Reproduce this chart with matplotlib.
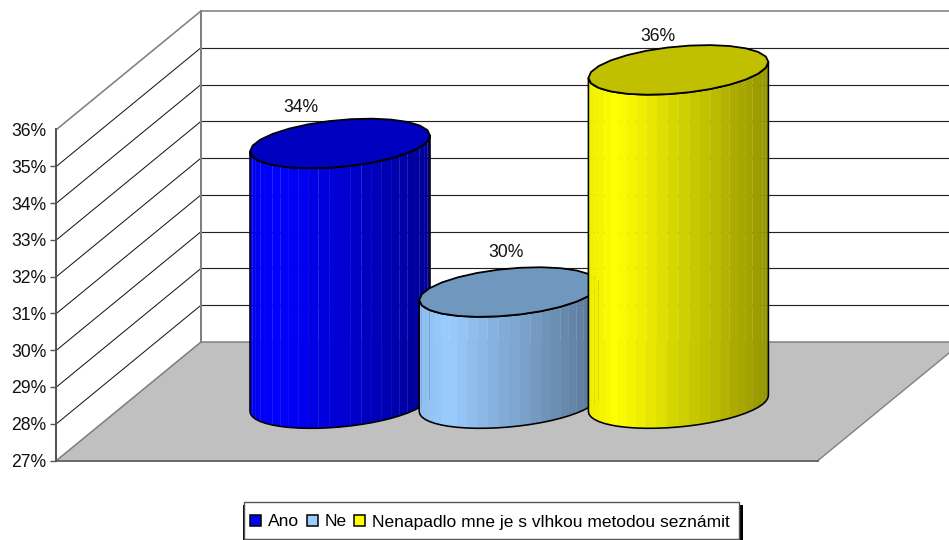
import numpy as np
import matplotlib
matplotlib.use("Agg")
import matplotlib.pyplot as plt
from matplotlib.patches import Polygon, Patch, Rectangle

categories = ["Ano", "Ne", "Nenapadlo mne je s vlhkou metodou seznámit"]
values = [34.07, 30.03, 36.07]
value_labels = ["34%", "30%", "36%"]
ticks = [27, 28, 29, 30, 31, 32, 33, 34, 35, 36]
tick_labels = ["27%", "28%", "29%", "30%", "31%", "32%", "33%", "34%", "35%", "36%"]

colors = [(0.0, 0.0, 1.0), (0.6, 0.8, 1.0), (1.0, 1.0, 0.0)]
caps = ["#0000C0", "#7098BF", "#C0C000"]

plt.rcParams["font.family"] = ["Liberation Sans", "DejaVu Sans"]
W, H = 949, 540
PX = 36.78
Y0 = 460.5


def val(py):
    return 27 + (Y0 - py) / PX


fig = plt.figure(figsize=(W / 100, H / 100), dpi=100)
ax = fig.add_axes([0, 0, 1, 1])
ax.set_xlim(0, W)
ax.set_ylim(val(H), val(0))
ax.set_xticks([])
for s in ("top", "right", "bottom"):
    ax.spines[s].set_visible(False)

X0, XB, XF = 56.5, 201, 818
DEPTH = 118.5 / PX
vmin, vmax = ticks[0], ticks[-1]
GR = "#808080"
lw1 = 0.72

# floor
ax.add_patch(Polygon([(X0, vmin), (XF, vmin), (XF + XB - X0, vmin + DEPTH), (XB, vmin + DEPTH)],
                     closed=True, fc="#C0C0C0", ec="none", zorder=1))
ax.plot([XF, XF + XB - X0], [vmin, vmin + DEPTH], color=GR, lw=lw1 * 1.4, zorder=2)
ax.plot([XB, W], [vmin + DEPTH] * 2, color=GR, lw=lw1 * 1.5, zorder=2)
ax.plot([X0, XB], [vmin, vmin + DEPTH], color=GR, lw=lw1 * 1.6, zorder=2)
ax.plot([X0, XF], [vmin, vmin], color="#555555", lw=lw1 * 1.7, zorder=2)

# walls and grid
for t in ticks[1:-1]:
    ax.plot([X0, XB], [t, t + DEPTH], color="#111111", lw=lw1, zorder=2)
    ax.plot([XB, W], [t + DEPTH] * 2, color="#222222", lw=lw1 * 1.15, zorder=2)
ax.plot([X0, XB], [vmax, vmax + DEPTH], color=GR, lw=lw1 * 1.6, zorder=2)
ax.plot([XB, W], [vmax + DEPTH] * 2, color=GR, lw=lw1 * 1.6, zorder=2)
ax.plot([XB, XB], [vmin + DEPTH, vmax + DEPTH], color=GR, lw=lw1 * 2, zorder=2)

# axis
ax.spines["left"].set_position(("data", X0))
ax.spines["left"].set_bounds(vmin, vmax)
ax.spines["left"].set_color("#555555")
ax.spines["left"].set_linewidth(lw1 * 2)
ax.spines["left"].set_zorder(3)
ax.set_yticks(ticks, tick_labels)
ax.tick_params(axis="y", length=4.4, width=1.0, color="#555555", pad=3, labelsize=12.7, labelcolor="#111111")
ax.yaxis.get_major_ticks()[-1].tick1line.set_visible(False)

# cylinders
RX, RY, SH = 90.0, 23.5, -8.0
BASE = val(403.5)
CX0, STEP = 340.0, 169.2
N = 26


def shade(u):
    if u < 0.16:
        return 0.93 + 0.07 * u / 0.16
    return 1 - 0.42 * (u - 0.16) / 0.84


for i, (v, c, cap) in enumerate(zip(values, colors, caps)):
    cx = CX0 + i * STEP
    ts = np.linspace(np.pi, 0, N + 1)          # left to right along the front
    xs = cx + RX * np.cos(ts)
    dy = (SH * np.cos(ts) + RY * np.sin(ts)) / PX
    low = BASE - dy
    up = BASE + (v - vmin) - dy
    for j in range(N):
        f = shade((xs[j] + xs[j + 1] - 2 * xs[0]) / 2 / (xs[-1] - xs[0]))
        col = tuple(f * k for k in c)
        ax.add_patch(Polygon([(xs[j], low[j]), (xs[j + 1], low[j + 1]), (xs[j + 1], up[j + 1]), (xs[j], up[j])],
                             closed=True, fc=col, ec=col, lw=0.15, zorder=4 + i))
    outline = np.vstack([np.column_stack([xs, low]), np.column_stack([xs[::-1], up[::-1]])])
    ax.add_patch(Polygon(outline, closed=True, fc="none", ec="black", lw=1.15, joinstyle="round", zorder=4 + i))
    tc = np.linspace(0, 2 * np.pi, 27)
    ax.add_patch(Polygon(np.column_stack([cx + RX * np.cos(tc),
                                          BASE + (v - vmin) - (SH * np.cos(tc) + RY * np.sin(tc)) / PX]),
                         closed=True, fc=cap, ec="black", lw=1.3, joinstyle="round", zorder=4 + i))

# value labels
lx = [301, 506, 658]
ly = [108, 253, 37]
for x, py, s in zip(lx, ly, value_labels):
    ax.text(x, val(py), s, ha="center", va="center", fontsize=12.7, color="#111111", zorder=10)

# legend
ax.add_patch(Rectangle((243, val(540)), 500, val(505) - val(540), fc="black", ec="none", zorder=18))
ax.add_patch(Rectangle((244, val(539)), 495, val(502) - val(539), fc="white", ec="#555555", lw=1.0, zorder=19))
handles = [Patch(fc=c, ec="black", lw=1.1) for c in colors]
leg = ax.legend(handles, categories, ncols=3, loc="center", bbox_to_anchor=(490 / W, 1 - 522 / H),
                bbox_transform=fig.transFigure, fontsize=12.5, frameon=False,
                handlelength=0.65, handleheight=0.65, handletextpad=0.4,
                columnspacing=0.42, borderpad=0, borderaxespad=0)
leg.set_zorder(20)
fig.savefig("out.png", dpi=100)
